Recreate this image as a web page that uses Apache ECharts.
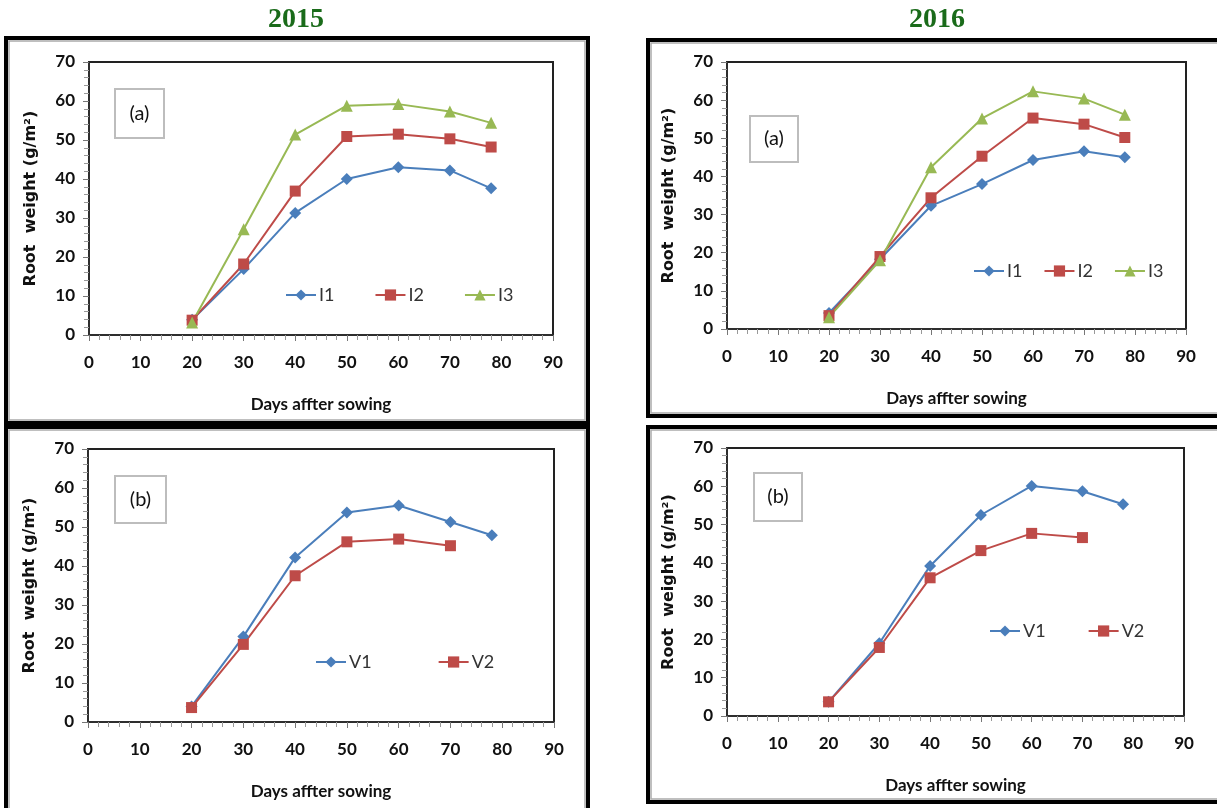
<!DOCTYPE html>
<html>
<head>
<meta charset="utf-8">
<script src="https://cdn.jsdelivr.net/npm/echarts@6/dist/echarts.min.js"></script>
<style>
  html, body { margin: 0; padding: 0; background: #fff; }
  #chart { width: 1217px; height: 808px; }
</style>
</head>
<body>
<div id="chart"></div>
<script>
// ---- Data ----
const days = [20, 30, 40, 50, 60, 70, 78];
const daysV2 = [20, 30, 40, 50, 60, 70];
const xTicks = [0, 10, 20, 30, 40, 50, 60, 70, 80, 90];
const yTicks = [0, 10, 20, 30, 40, 50, 60, 70];

const i1_2015 = [3.9, 16.9, 31.3, 40.0, 43.0, 42.2, 37.6];
const i2_2015 = [3.8, 18.2, 36.9, 50.9, 51.5, 50.3, 48.2];
const i3_2015 = [3.2, 27.1, 51.4, 58.8, 59.2, 57.3, 54.4];

const i1_2016 = [4.2, 18.3, 32.3, 38.0, 44.3, 46.6, 45.0];
const i2_2016 = [3.5, 19.0, 34.4, 45.3, 55.3, 53.7, 50.2];
const i3_2016 = [3.1, 18.0, 42.4, 55.2, 62.3, 60.4, 56.2];

const v1_2015 = [4.0, 21.9, 42.2, 53.7, 55.5, 51.3, 47.9];
const v2_2015 = [3.7, 19.9, 37.5, 46.2, 46.9, 45.2];

const v1_2016 = [3.7, 19.0, 39.2, 52.5, 60.1, 58.7, 55.3];
const v2_2016 = [3.7, 17.9, 36.1, 43.2, 47.7, 46.6];

const yearTitles = ['2015', '2016'];
const panelTags = ['(a)', '(a)', '(b)', '(b)'];
const xName = 'Days affter sowing';
const yName = 'Root  weight (g/m\u00b2)';

// ---- Styles ----
const NARROW = 'Lato, "Open Sans", sans-serif';
const BLUE = '#4a7ebb', RED = '#be4b48', GREEN = '#98b954';

function zip(xs, ys) { return ys.map((y, i) => [xs[i], y]); }

const grids = [
  { left: 89, top: 62, width: 464, height: 273 },
  { left: 727, top: 62, width: 459, height: 267 },
  { left: 88, top: 449, width: 466, height: 273 },
  { left: 727, top: 448, width: 457, height: 268 }
];

function xAxisFor(i) {
  return {
    type: 'value', gridIndex: i, min: xTicks[0], max: xTicks[xTicks.length - 1], interval: 10,
    name: xName, nameLocation: 'middle', nameGap: 61,
    nameTextStyle: { fontFamily: NARROW, fontWeight: 'bold', fontSize: 17, color: '#111' },
    axisLine: { show: true, lineStyle: { color: '#333', width: 1.5 } },
    axisTick: { show: true, length: 6, lineStyle: { color: '#777' } },
    minorTick: { show: true, splitNumber: 5, length: 5, lineStyle: { color: '#999' } },
    splitLine: { show: false },
    axisLabel: { margin: 19, fontFamily: NARROW, fontWeight: 'bold', fontSize: 17, color: '#111' }
  };
}
function yAxisFor(i) {
  return {
    type: 'value', gridIndex: i, min: yTicks[0], max: yTicks[yTicks.length - 1], interval: 10,
    name: yName, nameLocation: 'middle', nameGap: 50,
    nameTextStyle: { fontFamily: '"DejaVu Sans", Verdana, sans-serif', fontWeight: 'bold', fontSize: 16, color: '#111' },
    axisLine: { show: true, lineStyle: { color: '#333', width: 1.5 } },
    axisTick: { show: true, length: 6, lineStyle: { color: '#777' } },
    minorTick: { show: true, splitNumber: 5, length: 5, lineStyle: { color: '#999' } },
    splitLine: { show: false },
    axisLabel: { margin: 14, fontFamily: NARROW, fontWeight: 'bold', fontSize: 17, color: '#111' }
  };
}

function lineSeries(name, gi, xs, ys, color, symbol, size) {
  return {
    name: name, type: 'line', xAxisIndex: gi, yAxisIndex: gi,
    data: zip(xs, ys), symbol: symbol, symbolSize: size,
    lineStyle: { color: color, width: 2 },
    itemStyle: { color: color },
    emphasis: { disabled: true }
  };
}

const series = [
  lineSeries('I1', 0, days, i1_2015, BLUE, 'diamond', 12),
  lineSeries('I2', 0, days, i2_2015, RED, 'rect', 11),
  lineSeries('I3', 0, days, i3_2015, GREEN, 'triangle', 12),
  lineSeries('I1', 1, days, i1_2016, BLUE, 'diamond', 12),
  lineSeries('I2', 1, days, i2_2016, RED, 'rect', 11),
  lineSeries('I3', 1, days, i3_2016, GREEN, 'triangle', 12),
  lineSeries('V1', 2, days, v1_2015, BLUE, 'diamond', 12),
  lineSeries('V2', 2, daysV2, v2_2015, RED, 'rect', 11),
  lineSeries('V1', 3, days, v1_2016, BLUE, 'diamond', 12),
  lineSeries('V2', 3, daysV2, v2_2016, RED, 'rect', 11)
];

function legendAt(names, left, cy, gap) {
  return {
    data: names, left: left, top: cy - 7, orient: 'horizontal', padding: 0,
    itemWidth: 30, itemHeight: 14, itemGap: gap, selectedMode: false,
    textStyle: { fontFamily: NARROW, fontSize: 18, color: '#333', padding: [0, 0, 0, -2] }
  };
}

const legends = [
  legendAt(['I1', 'I2', 'I3'], 285, 293, 40),
  legendAt(['I1', 'I2', 'I3'], 973, 269, 21),
  legendAt(['V1', 'V2'], 315, 660, 66),
  legendAt(['V1', 'V2'], 989, 629, 42)
];

function frame(x, y, w, h) {
  return [
    { type: 'rect', shape: { x: x, y: y, width: w, height: h }, style: { fill: 'none', stroke: '#000', lineWidth: 4 }, silent: true },
    { type: 'rect', shape: { x: x + 3, y: y + 3, width: w - 6, height: h - 6 }, style: { fill: 'none', stroke: '#aaa', lineWidth: 1.5 }, silent: true }
  ];
}
function tagBox(x, y, w, h, label) {
  return [
    { type: 'rect', shape: { x: x, y: y, width: w, height: h }, style: { fill: '#fff', stroke: '#bdbdbd', lineWidth: 2 }, z: 10, silent: true },
    { type: 'text', x: x + w / 2, y: y + h / 2, style: { text: label, fontFamily: NARROW, fontSize: 20, fill: '#111', align: 'center', verticalAlign: 'middle' }, z: 11, silent: true }
  ];
}

const graphics = [].concat(
  frame(6, 38, 582, 385),
  frame(6, 427, 582, 390),
  frame(648, 40, 580, 376),
  frame(648, 427, 580, 375),
  tagBox(115, 89, 49, 49, panelTags[0]),
  tagBox(750, 116, 48, 46, panelTags[1]),
  tagBox(115, 476, 51, 47, panelTags[2]),
  tagBox(754, 473, 48, 48, panelTags[3]),
  [
    { type: 'text', x: 296, y: 20, style: { text: yearTitles[0], fontFamily: '"Liberation Serif", "Times New Roman", serif', fontWeight: 'bold', fontSize: 28, fill: '#1a6b1a', align: 'center', verticalAlign: 'middle' } },
    { type: 'text', x: 937, y: 20, style: { text: yearTitles[1], fontFamily: '"Liberation Serif", "Times New Roman", serif', fontWeight: 'bold', fontSize: 28, fill: '#1a6b1a', align: 'center', verticalAlign: 'middle' } }
  ]
);

const option = {
  animation: false,
  backgroundColor: '#fff',
  grid: grids.map(g => Object.assign({ show: true, borderColor: '#222', borderWidth: 2, backgroundColor: 'transparent' }, g)),
  xAxis: [0, 1, 2, 3].map(xAxisFor),
  yAxis: [0, 1, 2, 3].map(yAxisFor),
  legend: legends,
  series: series,
  graphic: graphics
};

const chart = echarts.init(document.getElementById('chart'), null, { renderer: 'canvas' });
chart.setOption(option);
</script>
</body>
</html>
